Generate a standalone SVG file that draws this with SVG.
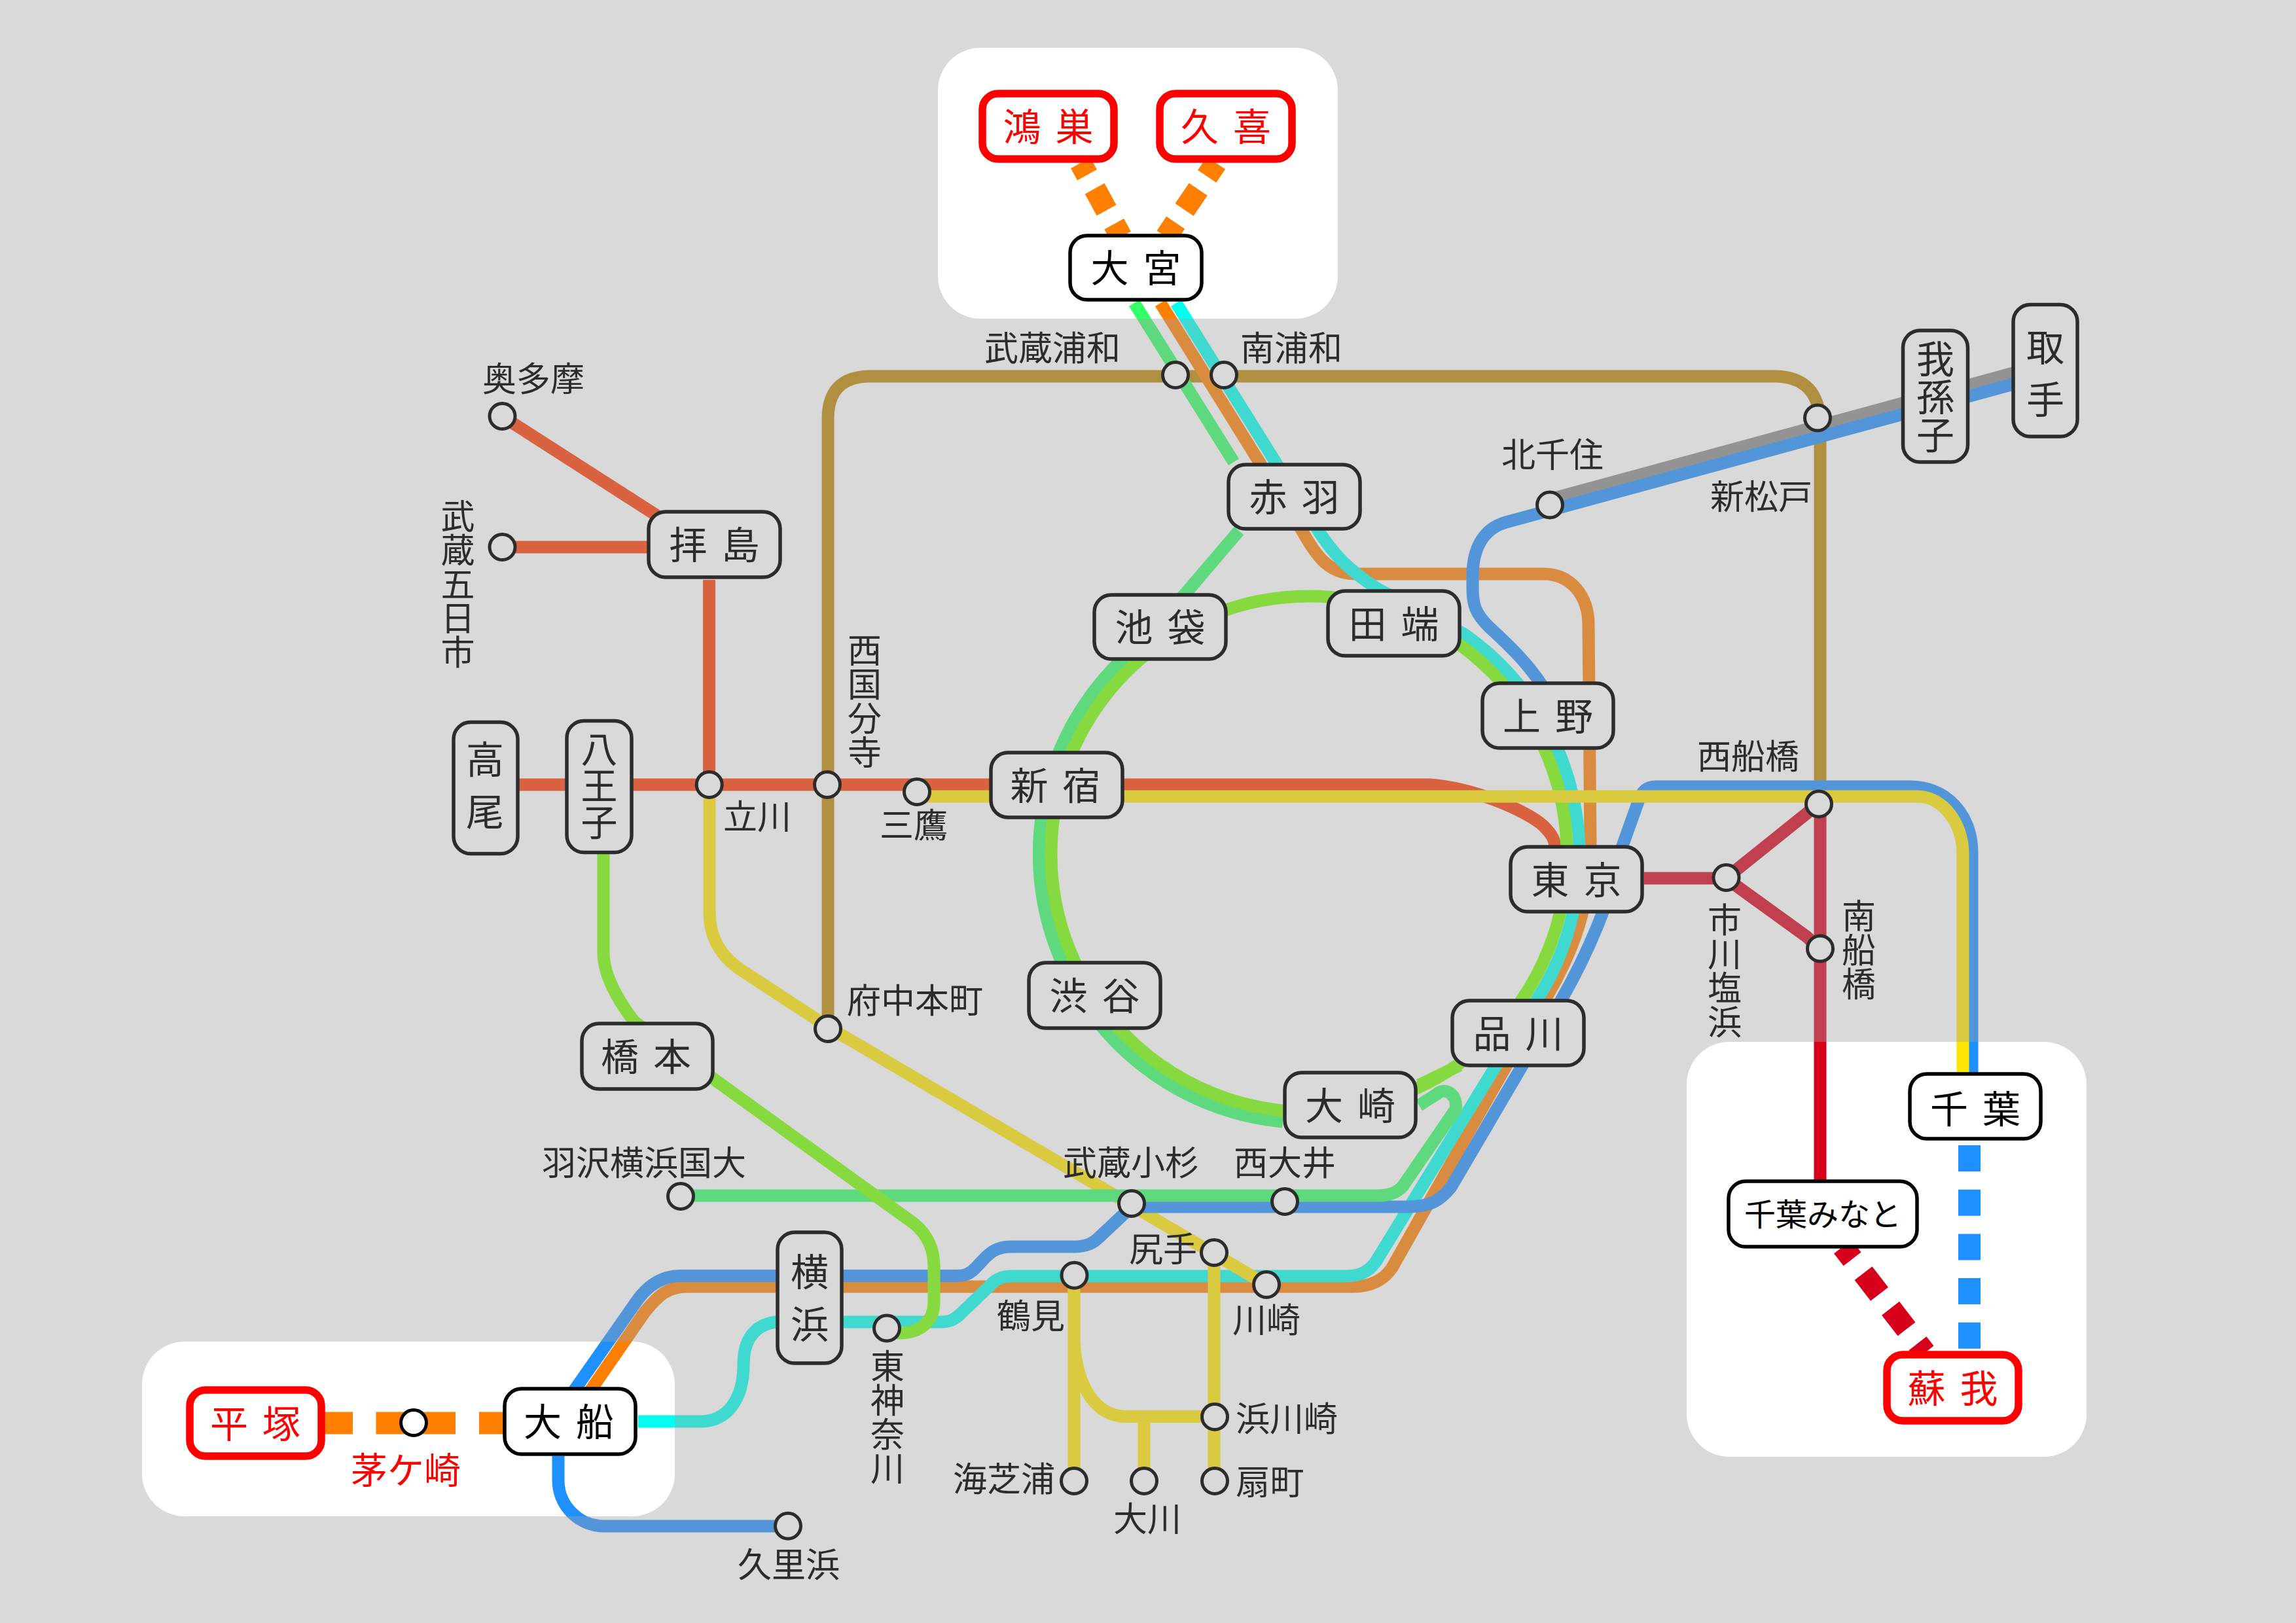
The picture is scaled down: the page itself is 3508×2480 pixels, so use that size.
<svg xmlns="http://www.w3.org/2000/svg" width="3508" height="2480" viewBox="0 0 3508 2480">
<style>
text{font-family:"Noto Sans CJK JP","Noto Sans CJK SC",sans-serif;text-anchor:middle}
.l{fill:none;stroke-width:19;stroke-linejoin:round}
.d{fill:none;stroke-width:34}
.n{fill:#d9d9d9;stroke:#2c2c2c;stroke-width:5.5}
.w{fill:#fff;stroke:#000;stroke-width:5.5}
.r{fill:#fff;stroke:#f00;stroke-width:11.5}
.c{fill:#d9d9d9;stroke:#2c2c2c;stroke-width:5}
.cw{fill:#fff;stroke:#000;stroke-width:5}
.t,.tw,.tr{font-size:58px;dominant-baseline:central;word-spacing:9px;transform:translateY(-3px)}
.t{fill:#2c2c2c}.tw{fill:#000}.tr{fill:#f00}
.v{font-size:58px;fill:#2c2c2c;writing-mode:vertical-rl;word-spacing:9px}
.s{font-size:52px;fill:#2c2c2c;dominant-baseline:central;transform:translateY(-3px)}
.sv{font-size:52px;fill:#2c2c2c;writing-mode:vertical-rl}
.or{stroke:#ff7f00}.bl{stroke:#1e90ff}.cy{stroke:#00ffee}.te{stroke:#33ff66}.li{stroke:#77ff00}
.ye{stroke:#ffe600}.re{stroke:#ff3a00}.cr{stroke:#d6001a}.br{stroke:#bb8500}.gr{stroke:#8a8a8a}
</style>
<rect width="3508" height="2480" fill="#fff"/>
<g id="connectors">
<path class="l br" d="M1265 1572V640Q1265 575 1330 575H2710Q2781 575 2781 650V1228"/>
<path class="l cr" d="M2512 1342H2637L2779 1228M2637 1342L2760 1431Q2781 1449 2781 1470M2781 1228V1803"/>
<path class="l re" d="M793 1199H2185C2260 1205 2345 1245 2362 1266Q2376 1280 2376 1295"/>
<path class="l re" d="M1083.500 886V1199M767 636L1007 790M767 836H989"/>
<path class="l gr" d="M3120 558L2368 763"/>
<path class="l or" d="M1773 463L1990 812C2010 848 2030 877 2070 877H2358C2400 877 2427 910 2427 955L2430 1292C2430 1390 2400 1470 2340 1560L2127 1937C2115 1955 2095 1966 2067 1966H1050C1020 1966 1005 1980 985 2005L902 2125"/>
<path class="l cy" d="M1797 463L2015 812C2040 850 2060 870 2105 900L2237 969A411 411 0 0 1 2340 1540L2102 1928C2090 1945 2075 1950 2056 1950H1546C1530 1950 1520 1955 1512 1965L1465 2010C1455 2018 1450 2020 1435 2020H1185C1150 2025 1136 2050 1136 2085C1136 2140 1110 2172 1070 2172H975"/>
<path class="l ye" d="M1084 1199V1394C1084 1430 1100 1462 1135 1484L1265 1569L1935 1963"/>
<path class="l ye" d="M1641 1949V2263M1641 2050C1645 2120 1675 2164 1720 2164.500H1855M1748 2164V2263M1855 1914V2263"/>
<path class="l bl" d="M3120 575L2301 798C2265 808 2250 840 2250 880V900C2250 925 2255 938 2275 958C2310 990 2335 1015 2358 1050"/>
<path class="l bl" d="M3013 1690V1304C3013 1245 2975 1202 2917 1202H2530Q2510 1202 2503 1225L2478 1295C2465 1360 2430 1460 2360 1570L2217 1814C2200 1835 2185 1844 2150 1844H1729L1680 1890C1670 1900 1660 1905 1640 1905H1545C1525 1905 1515 1912 1505 1922L1490 1938C1482 1946 1475 1949.500 1462 1949.500H1040C1010 1949.500 990 1965 975 1985L877 2125"/>
<path class="l bl" d="M853 2225V2262A70 70 0 0 0 923 2332H1204"/>
<path class="l te" d="M1733 463L1885 706M1893 811L1812 906L1712 1010A411 411 0 0 0 1960 1714M2168 1689L2195 1672C2207 1660 2228 1672 2224 1695L2143 1813Q2130 1827 2105 1827H1040"/>
<circle class="l li" cx="2000" cy="1305" r="394"/>
<path class="l li" d="M922 1305V1456C922 1490 945 1530 969 1561L1397 1870C1415 1885 1427 1905 1427 1935V1990C1427 2020 1405 2037 1375 2037H1362M2168 1658L2230 1628"/>
<path class="l ye" d="M1401 1217H2929C2970 1217 2999 1260 2999 1304V1640"/>
<path class="d or" stroke-dasharray="37.600 24" stroke-dashoffset="16.800" d="M1651 249L1713 362"/>
<path class="d or" stroke-dasharray="37.600 24" stroke-dashoffset="12.900" d="M1858 249L1781.500 362"/>
<path class="d bl" stroke-dasharray="40 27.700" d="M3009 1750V2067"/>
<path class="d cr" stroke-dasharray="40 27.700" stroke-dashoffset="16.200" d="M2815.500 1905L2941 2067"/>
<path class="d or" stroke-dasharray="43 35.500 121.500 36 40" d="M496 2174.500H772"/>
</g>
<path id="dim" fill="#a0a0a0" fill-opacity=".4" fill-rule="evenodd" d="M0 0H3508V2480H0ZM1498 73H1979A65 65 0 0 1 2044 138V422A65 65 0 0 1 1979 487H1498A65 65 0 0 1 1433 422V138A65 65 0 0 1 1498 73ZM282 2050H966A65 65 0 0 1 1031 2115V2252A65 65 0 0 1 966 2317H282A65 65 0 0 1 217 2252V2115A65 65 0 0 1 282 2050ZM2642 1592H3123A65 65 0 0 1 3188 1657V2161A65 65 0 0 1 3123 2226H2642A65 65 0 0 1 2577 2161V1657A65 65 0 0 1 2642 1592Z"/>
<g id="n-konosu"><rect class="r" x="1501" y="143" width="201" height="100" rx="24"/><text class="tr" x="1601.500" y="193">鴻 巣</text></g>
<g id="n-kuki"><rect class="r" x="1772" y="143" width="202" height="100" rx="24"/><text class="tr" x="1873" y="193">久 喜</text></g>
<g id="n-omiya"><rect class="w" x="1635" y="360" width="201" height="98" rx="26"/><text class="tw" x="1735.500" y="409">大 宮</text></g>
<g id="n-akabane"><rect class="n" x="1877" y="710" width="201" height="98" rx="26"/><text class="t" x="1977.500" y="759">赤 羽</text></g>
<g id="n-ikebukuro"><rect class="n" x="1672" y="909" width="201" height="98" rx="26"/><text class="t" x="1772.500" y="958">池 袋</text></g>
<g id="n-tabata"><rect class="n" x="2029" y="903" width="201" height="99" rx="26"/><text class="t" x="2129.500" y="952.500">田 端</text></g>
<g id="n-ueno"><rect class="n" x="2265" y="1044" width="200" height="99" rx="26"/><text class="t" x="2365" y="1093.500">上 野</text></g>
<g id="n-tokyo"><rect class="n" x="2308" y="1294" width="201" height="99" rx="26"/><text class="t" x="2408.500" y="1343.500">東 京</text></g>
<g id="n-shinagawa"><rect class="n" x="2219" y="1529" width="201" height="99" rx="26"/><text class="t" x="2319.500" y="1578.500">品 川</text></g>
<g id="n-shinjuku"><rect class="n" x="1514" y="1150" width="201" height="99" rx="26"/><text class="t" x="1612.500" y="1199.500">新 宿</text></g>
<g id="n-shibuya"><rect class="n" x="1572" y="1471" width="201" height="100" rx="26"/><text class="t" x="1672.500" y="1521">渋 谷</text></g>
<g id="n-osaki"><rect class="n" x="1963" y="1639" width="200" height="99" rx="26"/><text class="t" x="2063" y="1688.500">大 崎</text></g>
<g id="n-chiba"><rect class="w" x="2918" y="1641" width="200" height="99" rx="26"/><text class="tw" x="3018" y="1693.500">千 葉</text></g>
<g id="n-chibaminato"><rect class="w" x="2641" y="1805" width="288" height="100" rx="26"/><text class="tw" x="2785" y="1855" style="font-size:48px">千葉みなと</text></g>
<g id="n-soga"><rect class="r" x="2883" y="2070" width="201" height="101" rx="24"/><text class="tr" x="2983.500" y="2120.500">蘇 我</text></g>
<g id="n-ofuna"><rect class="w" x="771" y="2122" width="200" height="100" rx="26"/><text class="tw" x="869" y="2172">大 船</text></g>
<g id="n-hiratsuka"><rect class="r" x="290" y="2124" width="201" height="101" rx="24"/><text class="tr" x="390" y="2174.500">平 塚</text></g>
<g id="n-hashimoto"><rect class="n" x="889" y="1564" width="200" height="100" rx="26"/><text class="t" x="987" y="1614">橋 本</text></g>
<g id="n-haijima"><rect class="n" x="991" y="782" width="201" height="100" rx="26"/><text class="t" x="1091.500" y="832">拝 島</text></g>
<g id="n-takao"><rect class="n" x="693" y="1103.500" width="98" height="201" rx="26"/><text class="v" x="741" y="1200">高 尾</text></g>
<g id="n-hachioji"><rect class="n" x="866" y="1101.500" width="99" height="201" rx="26"/><text class="v" x="915.500" y="1200" style="font-size:56px">八王子</text></g>
<g id="n-yokohama"><rect class="n" x="1188" y="1883" width="98" height="200" rx="26"/><text class="v" x="1237" y="1983">横 浜</text></g>
<g id="n-abiko"><rect class="n" x="2907.500" y="505" width="99" height="201" rx="26"/><text class="v" x="2957" y="605.500">我孫子</text></g>
<g id="n-toride"><rect class="n" x="3076" y="465.500" width="98" height="201.500" rx="26"/><text class="v" x="3125" y="570">取 手</text></g>
<g id="s-musashiurawa"><circle class="c" cx="1796" cy="573" r="19.500"/><text class="s" x="1608" y="531">武蔵浦和</text></g>
<g id="s-minamiurawa"><circle class="c" cx="1870" cy="573" r="19.500"/><text class="s" x="1973" y="531">南浦和</text></g>
<g id="s-kitasenju"><circle class="c" cx="2368" cy="771.500" r="19.500"/><text class="s" x="2372" y="694">北千住</text></g>
<g id="s-shinmatsudo"><circle class="c" cx="2777" cy="638.500" r="19.500"/><text class="s" x="2691" y="758">新松戸</text></g>
<g id="s-nishifunabashi"><circle class="c" cx="2779" cy="1228.500" r="19.500"/><text class="s" x="2671" y="1155">西船橋</text></g>
<g id="s-minamifunabashi"><circle class="c" cx="2781" cy="1449.500" r="19.500"/><text class="sv" x="2840" y="1451">南船橋</text></g>
<g id="s-ichikawashiohama"><circle class="c" cx="2637.500" cy="1341" r="19.500"/><text class="sv" x="2635" y="1483">市川塩浜</text></g>
<g id="s-okutama"><circle class="c" cx="767.500" cy="636" r="19.500"/><text class="s" x="815" y="578">奥多摩</text></g>
<g id="s-musashiitsukaichi"><circle class="c" cx="767.500" cy="836" r="19.500"/><text class="sv" x="699.500" y="892">武蔵五日市</text></g>
<g id="s-tachikawa"><circle class="c" cx="1083.700" cy="1199" r="19.500"/><text class="s" x="1157" y="1247">立川</text></g>
<g id="s-nishikokubunji"><circle class="c" cx="1264" cy="1199" r="19.500"/><text class="sv" x="1321" y="1071">西国分寺</text></g>
<g id="s-mitaka"><circle class="c" cx="1401" cy="1210" r="19.500"/><text class="s" x="1396" y="1260">三鷹</text></g>
<g id="s-fuchuhonmachi"><circle class="c" cx="1265" cy="1572" r="19.500"/><text class="s" x="1398" y="1528">府中本町</text></g>
<g id="s-hazawa"><circle class="c" cx="1040" cy="1828" r="19.500"/><text class="s" x="984" y="1776">羽沢横浜国大</text></g>
<g id="s-musashikosugi"><circle class="c" cx="1729" cy="1839" r="19.500"/><text class="s" x="1728" y="1776">武蔵小杉</text></g>
<g id="s-nishioi"><circle class="c" cx="1963" cy="1836" r="19.500"/><text class="s" x="1963" y="1776">西大井</text></g>
<g id="s-shiriute"><circle class="c" cx="1855" cy="1914" r="19.500"/><text class="s" x="1777" y="1908">尻手</text></g>
<g id="s-kawasaki"><circle class="c" cx="1935" cy="1963" r="19.500"/><text class="s" x="1935" y="2016">川崎</text></g>
<g id="s-tsurumi"><circle class="c" cx="1641.500" cy="1948.700" r="19.500"/><text class="s" x="1575" y="2010">鶴見</text></g>
<g id="s-higashikanagawa"><circle class="c" cx="1355" cy="2029.500" r="19.500"/><text class="sv" x="1356" y="2165">東神奈川</text></g>
<g id="s-umishibaura"><circle class="c" cx="1641" cy="2263" r="19.500"/><text class="s" x="1534" y="2259">海芝浦</text></g>
<g id="s-okawa"><circle class="c" cx="1748" cy="2263" r="19.500"/><text class="s" x="1753" y="2320">大川</text></g>
<g id="s-ogimachi"><circle class="c" cx="1856" cy="2263" r="19.500"/><text class="s" x="1940.500" y="2264">扇町</text></g>
<g id="s-hamakawasaki"><circle class="c" cx="1856" cy="2165" r="19.500"/><text class="s" x="1966" y="2167">浜川崎</text></g>
<g id="s-kurihama"><circle class="c" cx="1204" cy="2331.700" r="19.500"/><text class="s" x="1205" y="2390">久里浜</text></g>
<g id="s-chigasaki"><circle class="cw" cx="632" cy="2174" r="19.500"/><text class="s" x="620" y="2245" style="font-size:56px;fill:#f00">茅ケ崎</text></g>
</svg>
